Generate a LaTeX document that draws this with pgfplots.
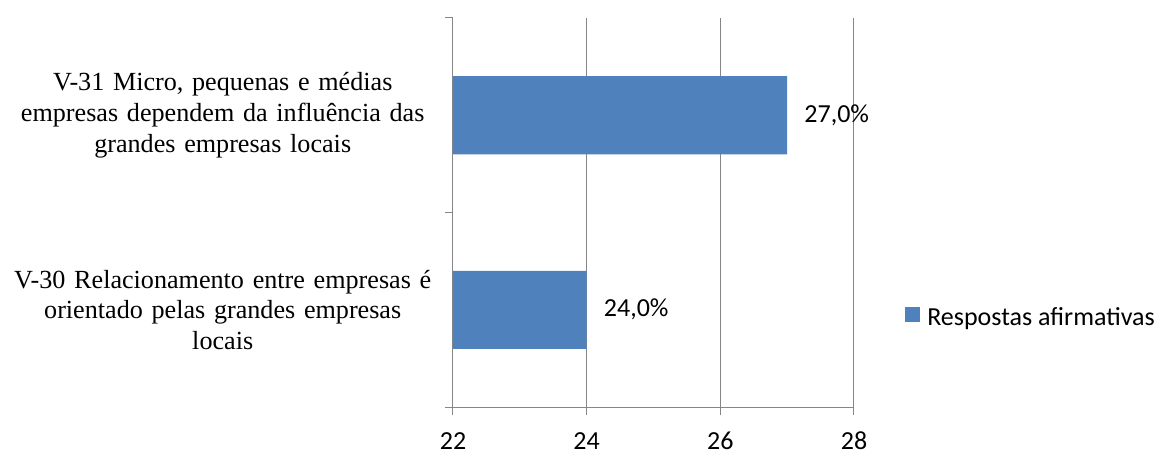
\documentclass[border=0pt]{standalone}
\usepackage{fontspec}
\setmainfont{Liberation Serif}
\newfontfamily\calibri{Carlito}
\usepackage{pgfplots}
\pgfplotsset{compat=1.18}
\definecolor{barblue}{HTML}{4F81BD}
\definecolor{axgray}{HTML}{868686}
\begin{document}
\begin{tikzpicture}
\begin{axis}[
  width=300.75pt, height=291.75pt, scale only axis,
  xbar, bar width=58.5pt,
  xmin=22, xmax=28, ymin=-0.5, ymax=1.5,
  axis x line*=bottom, axis y line*=left,
  axis line style={axgray, line width=0.75pt},
  tick style={axgray, line width=0.75pt},
  tick align=outside,
  major tick length=6pt,
  xtick={22,24,26,28},
  xmajorgrids, major grid style={axgray, line width=0.75pt},
  /pgf/number format/assume math mode=true,
  xticklabel style={font=\calibri\fontsize{19.5}{23}\selectfont, inner sep=0pt, anchor=north, text height=12.5pt, text depth=0pt, yshift=-13pt},
  ytick={-0.5,0.5,1.5}, yticklabels={},
  extra y ticks={0,1},
  extra y tick labels={{V-30 Relacionamento entre empresas é\\orientado pelas grandes empresas\\locais},{V-31 Micro, pequenas e médias\\empresas dependem da influência das\\grandes empresas locais}},
  extra y tick style={major tick length=0pt,
    yticklabel style={font=\fontsize{19.6}{23}\selectfont, align=center, text width=330pt, anchor=east, inner sep=0pt, xshift=-7.5pt}},
  point meta=x,
  nodes near coords={\pgfmathprintnumber[fixed, fixed zerofill, precision=1, use comma]{\pgfplotspointmeta}\%},
  nodes near coords style={font=\calibri\fontsize{19.5}{23}\selectfont, anchor=west, inner sep=0pt, xshift=12.75pt, black},
  legend style={at={(1,0.2365)}, anchor=west, xshift=38pt, yshift=-1.5pt, draw=none, fill=none, inner sep=0pt,
    font=\calibri\fontsize{19.5}{23}\selectfont, nodes={inner sep=0pt}, column sep=5.5pt},
  legend image code/.code={\fill[barblue] (0pt,-3.5pt) rectangle (11.25pt,7.75pt);},
]
\addplot[fill=barblue, draw=none] coordinates {(24,0) (27,1)};
\addlegendentry{Respostas afirmativas}
\end{axis}
\path ([xshift=-339.75pt,yshift=-37.5pt]current axis.south west) -- ([xshift=231.75pt,yshift=13.5pt]current axis.north east);
\end{tikzpicture}
\end{document}
